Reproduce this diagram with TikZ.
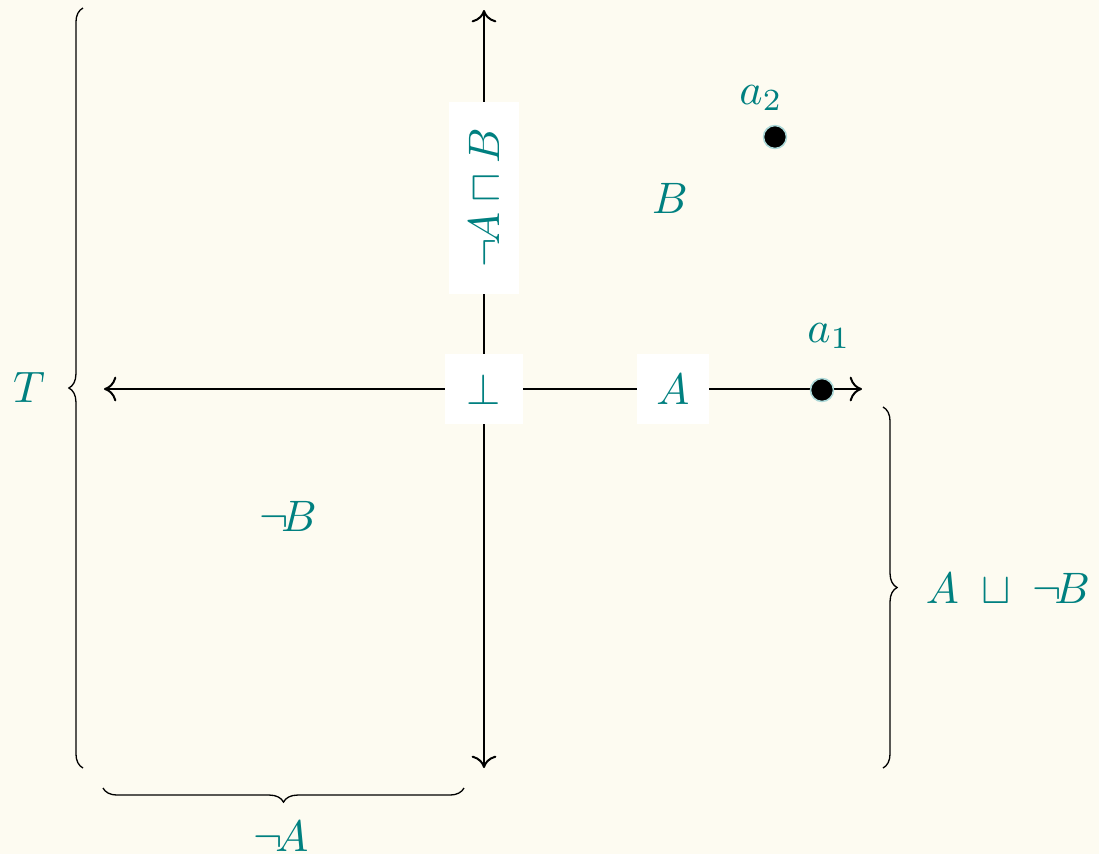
\documentclass[tikz,border=0pt]{standalone}
\usetikzlibrary{arrows.meta,decorations.pathreplacing}
\definecolor{bgc}{RGB}{253,251,241}
\definecolor{txt}{RGB}{0,128,128}
\definecolor{dotrim}{RGB}{170,215,215}
\tikzset{
  lab/.style={text=txt,inner sep=0pt},
  box/.style={lab,fill=white,minimum height=16.1pt,minimum width=16.4pt},
  axis/.style={line width=0.45pt,{To[length=2.8pt,width=5.6pt]}-{To[length=2.8pt,width=5.6pt]}},
  brace/.style={line width=0.3pt,decorate,decoration={brace,amplitude=3.2pt}},
  pt/.style={circle,fill=black,draw=dotrim,line width=0.35pt,minimum size=5.2pt,inner sep=0pt}
}
\begin{document}
\begin{tikzpicture}[x=0.227pt,y=-0.227pt]
\fill[bgc] (0,0) rectangle (1099,854);
\useasboundingbox (0,0) rectangle (1099,854);
\coordinate (top) at (484,10);
\coordinate (bot) at (484,768);
\coordinate (lft) at (104,389);
\coordinate (rgt) at (862,389);
\draw[axis] (lft) -- (rgt);
\draw[axis] (top) -- (bot);
\node[box,minimum width=17.7pt] (bottom) at (484,389) {$\bot$};
\node[box] (A) at (673,389) {$A$};
\node[box,rotate=90,minimum width=43.4pt] (nAB) at (484,198) {$\neg\! A \sqcap B$};
\node[pt] (p1) at (822,390) {};
\node[pt] (p2) at (775,137) {};
\node[lab] (a1) at (829,336) {$a_1$};
\node[lab] (a2) at (761,98) {$a_2$};
\node[lab] (B) at (670,198) {$B$};
\node[lab] (nB) at (288,516) {$\neg\! B$};
\node[lab] (T) at (29,387) {$T$};
\node[lab] (nA) at (281,836) {$\neg\! A$};
\node[lab] (AnB) at (1008,588) {$A\;\sqcup\;\neg\! B$};
\coordinate (lb1) at (83,768);
\coordinate (lb2) at (83,8);
\coordinate (bb1) at (464,788);
\coordinate (bb2) at (103,788);
\coordinate (rb1) at (883,407);
\coordinate (rb2) at (883,768);
\draw[brace] (lb1) -- (lb2);
\draw[brace] (bb1) -- (bb2);
\draw[brace] (rb1) -- (rb2);
\end{tikzpicture}
\end{document}
